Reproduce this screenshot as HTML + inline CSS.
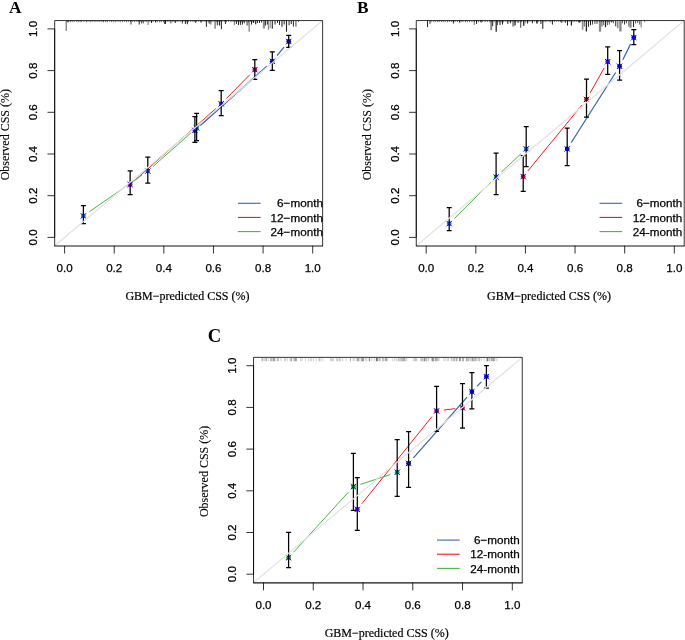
<!DOCTYPE html>
<html lang="en">
<head>
<meta charset="utf-8">
<title>Calibration plots</title>
<style>
html,body{margin:0;padding:0;background:#fff;}
body{width:685px;height:640px;overflow:hidden;}
svg{display:block;}
.t{font-family:"Liberation Sans", sans-serif;font-size:11.6px;fill:#000;stroke:#000;stroke-width:0.25px;}
.l{font-family:"Liberation Sans", sans-serif;font-size:11.7px;fill:#000;stroke:#000;stroke-width:0.25px;}
.a{font-family:"Liberation Serif", serif;font-size:12px;fill:#000;stroke:#000;stroke-width:0.2px;}
.ay{font-family:"Liberation Serif", serif;font-size:12px;fill:#000;stroke:#000;stroke-width:0.12px;}
.p{font-family:"Liberation Serif", serif;font-weight:bold;fill:#000;}
</style>
</head>
<body>
<svg width="685" height="640" viewBox="0 0 685 640">
<rect width="685" height="640" fill="#fff"/>
<g>
<path d="M68 20.56v1.19M70.33 20.56v1.63M72.18 20.56v1.45M74.19 20.56v1.56M76.48 20.56v1.17M78.14 20.56v1.69M80.14 20.56v1.63M81.78 20.56v1.41M84.01 20.56v1.26M86.43 20.56v1.73M88.09 20.56v1.12M90.18 20.56v1.76M92.13 20.56v1.25M94.11 20.56v1.12M95.94 20.56v1.41M97.98 20.56v1.26M99.81 20.56v1.25M101.83 20.56v1.3M103.49 20.56v1.69M105.58 20.56v1.55M107.37 20.56v1.79M109.72 20.56v1.18M111.63 20.56v1.61M113.86 20.56v1.76M115.84 20.56v1.68M118.03 20.56v1.31M120.15 20.56v1.72M122.49 20.56v1.45M124.61 20.56v1.12M126.45 20.56v1.66M128.43 20.56v1.22M130.52 20.56v1.59M132.71 20.56v1.36M134.71 20.56v1.46M136.99 20.56v1.46M138.95 20.56v1.44M140.62 20.56v1.13M142.83 20.56v1.79M144.96 20.56v1.38M146.74 20.56v1.45M149.19 20.56v1.64M151.27 20.56v1.7M153.1 20.56v1.46M155.52 20.56v1.5M157.54 20.56v1.29M159.63 20.56v1.77M161.27 20.56v1.65M163.58 20.56v1.72M165.83 20.56v1.67M167.9 20.56v1.49M169.88 20.56v1.14M172.24 20.56v1.5M174.04 20.56v1.45M176.08 20.56v1.35M178 20.56v1.48M180.15 20.56v1.53M182.17 20.56v1.12M184 20.56v1.22M186.12 20.56v1.7M188.41 20.56v1.66M190.72 20.56v1.28M193.05 20.56v1.57M194.76 20.56v1.11M196.41 20.56v1.63M198.26 20.56v1.18M200.41 20.56v1.34M202.11 20.56v1.21M204.18 20.56v1.22M206.04 20.56v1.6M208.06 20.56v1.33M210.08 20.56v1.12M212.04 20.56v1.39M213.83 20.56v1.18M216.21 20.56v1.46M218.02 20.56v1.52M220.33 20.56v1.11M221.99 20.56v1.2M224.22 20.56v1.21M226.44 20.56v1.57M228.52 20.56v1.25M230.96 20.56v1.66M233.03 20.56v1.26M235.2 20.56v1.38M237.31 20.56v1.32M239.47 20.56v1.14M241.35 20.56v1.78M243.71 20.56v1.31M246.05 20.56v1.32M248.46 20.56v1.62M250.45 20.56v1.28M252.09 20.56v1.72M253.76 20.56v1.67" stroke="#000" stroke-width="1" fill="none" opacity="0.6"/><path d="M139.2 20.56v4M151.5 20.56v2.4M155.8 20.56v2M165.5 20.56v3.4M175.3 20.56v2.4M185.4 20.56v3.4M187.4 20.56v3.7M206.4 20.56v6.3M217.3 20.56v4.7M221.4 20.56v8.6M225.4 20.56v3.4M236.4 20.56v3.4M238.5 20.56v4.4M240.4 20.56v4.4M242.4 20.56v4M244.3 20.56v2.7M251.5 20.56v4M253.5 20.56v2.4M257.5 20.56v2.4M259.5 20.56v2.4M261.6 20.56v1.9M265.4 20.56v5M267.3 20.56v4M277.5 20.56v2.4M279.5 20.56v4.4M291.3 20.56v3.4M293.4 20.56v6" stroke="#000" stroke-width="1" fill="none" opacity="0.85"/><path d="M270.3 20.56v7.3" stroke="#000" stroke-width="1" fill="none" opacity="0.45"/><path d="M66.2 20.56v10.4M141.5 20.56v2.9M143.3 20.56v2.9M164.5 20.56v3.4M195.4 20.56v2.4M201.1 20.56v2.4M298.6 20.56v1.4" stroke="#000" stroke-width="1" fill="none" opacity="0.65"/><path d="M272.3 20.56v8.3M286.5 20.56v11.2" stroke="#000" stroke-width="1.1" fill="none" opacity="0.85"/><path d="M68 20.56v1.7M219.5 20.56v5M255.7 20.56v3.7" stroke="#000" stroke-width="1.2" fill="none" opacity="0.85"/><path d="M148.1 20.56v4.4" stroke="#000" stroke-width="1.2" fill="none" opacity="0.45"/><path d="M182.4 20.56v3" stroke="#000" stroke-width="1.2" fill="none" opacity="0.65"/><path d="M234.4 20.56v4.7" stroke="#000" stroke-width="1.3" fill="none" opacity="0.45"/><path d="M284.2 20.56v4" stroke="#000" stroke-width="1.3" fill="none" opacity="0.65"/><path d="M249.2 20.56v11.2M268.5 20.56v9.3" stroke="#000" stroke-width="1.4" fill="none" opacity="0.45"/><path d="M209.2 20.56v3" stroke="#000" stroke-width="1.4" fill="none" opacity="0.65"/><path d="M131 20.56v4M170.7 20.56v3M210.8 20.56v4M215.1 20.56v8.3M295.9 20.56v6.3" stroke="#000" stroke-width="1.6" fill="none" opacity="0.45"/><path d="M263.9 20.56v7.9M275 20.56v4M282 20.56v6.3M289.2 20.56v4.7" stroke="#000" stroke-width="2" fill="none" opacity="0.45"/><path d="M247.3 20.56v5" stroke="#000" stroke-width="2.2" fill="none" opacity="0.45"/>
<path d="M200.35 125.54L266.85 66.16M276.96 55.68L284.04 47.12" stroke="#3568ac" stroke-width="1.25" fill="none"/>
<path d="M135.61 179.66L215.74 108.64M226.32 98.6L249.68 74.85" stroke="#f01a1a" stroke-width="1" fill="none"/>
<path d="M89.39 211.73L141.81 175.27M153.27 166.26L191.13 132.74" stroke="#48b448" stroke-width="1" fill="none"/>
<circle cx="194.9" cy="130.4" r="2.4" fill="#0000d0"/>
<circle cx="272.3" cy="61.3" r="2.4" fill="#0000d0"/>
<circle cx="288.7" cy="41.5" r="2.4" fill="#0000d0"/>
<path d="M194.9 116.7V142.3M192.4 116.7h5M192.4 142.3h5M272.3 51.8V70.4M269.8 51.8h5M269.8 70.4h5M288.7 35.3V47.3M286.2 35.3h5M286.2 47.3h5" stroke="#000" stroke-width="1.25" fill="none"/>
<path d="M192.2 127.7l5.4 5.4M192.2 133.1l5.4 -5.4M269.6 58.6l5.4 5.4M269.6 64l5.4 -5.4M286 38.8l5.4 5.4M286 44.2l5.4 -5.4" stroke="#0000ff" stroke-width="1" fill="none"/>
<circle cx="130.15" cy="184.5" r="2.4" fill="#ff0000"/>
<circle cx="221.2" cy="103.8" r="2.4" fill="#ff0000"/>
<circle cx="254.8" cy="69.65" r="2.4" fill="#ff0000"/>
<path d="M130.15 170.9V194.5M127.65 170.9h5M127.65 194.5h5M221.2 90.6V115.5M218.7 90.6h5M218.7 115.5h5M254.8 59.5V79.35M252.3 59.5h5M252.3 79.35h5" stroke="#000" stroke-width="1.25" fill="none"/>
<path d="M127.45 181.8l5.4 5.4M127.45 187.2l5.4 -5.4M218.5 101.1l5.4 5.4M218.5 106.5l5.4 -5.4M252.1 66.95l5.4 5.4M252.1 72.35l5.4 -5.4" stroke="#0000ff" stroke-width="1" fill="none"/>
<circle cx="83.4" cy="215.9" r="2.4" fill="#1fb01f"/>
<circle cx="147.8" cy="171.1" r="2.4" fill="#1fb01f"/>
<circle cx="196.6" cy="127.9" r="2.4" fill="#1fb01f"/>
<path d="M83.4 205.5V223.6M80.9 205.5h5M80.9 223.6h5M147.8 157.2V183.2M145.3 157.2h5M145.3 183.2h5M196.6 113.4V140.6M194.1 113.4h5M194.1 140.6h5" stroke="#000" stroke-width="1.25" fill="none"/>
<path d="M80.7 213.2l5.4 5.4M80.7 218.6l5.4 -5.4M145.1 168.4l5.4 5.4M145.1 173.8l5.4 -5.4M193.9 125.2l5.4 5.4M193.9 130.6l5.4 -5.4" stroke="#0000ff" stroke-width="1" fill="none"/>
<line x1="54.68" y1="245.74" x2="322.62" y2="20.56" stroke="#e2e2e2" stroke-width="1.2"/>
<path d="M54.68 246V20.56H322.62V246" fill="none" stroke="#000" stroke-width="0.8"/>
<path d="M54.28 246H323.02" fill="none" stroke="#000" stroke-width="1.15" opacity="0.92"/>
<path d="M54.68 237.4V28.9M64.6 245.74v7.8M54.68 237.4h-7.2M114.22 245.74v7.8M54.68 195.7h-7.2M163.84 245.74v7.8M54.68 154h-7.2M213.46 245.74v7.8M54.68 112.3h-7.2M263.08 245.74v7.8M54.68 70.6h-7.2M312.7 245.74v7.8M54.68 28.9h-7.2" stroke="#000" stroke-width="0.8" fill="none"/>
<text x="64.6" y="271.74" text-anchor="middle" class="t">0.0</text>
<text x="114.22" y="271.74" text-anchor="middle" class="t">0.2</text>
<text x="163.84" y="271.74" text-anchor="middle" class="t">0.4</text>
<text x="213.46" y="271.74" text-anchor="middle" class="t">0.6</text>
<text x="263.08" y="271.74" text-anchor="middle" class="t">0.8</text>
<text x="312.7" y="271.74" text-anchor="middle" class="t">1.0</text>
<text transform="translate(36.98 237.4) rotate(-90)" text-anchor="middle" class="t">0.0</text>
<text transform="translate(36.98 195.7) rotate(-90)" text-anchor="middle" class="t">0.2</text>
<text transform="translate(36.98 154) rotate(-90)" text-anchor="middle" class="t">0.4</text>
<text transform="translate(36.98 112.3) rotate(-90)" text-anchor="middle" class="t">0.6</text>
<text transform="translate(36.98 70.6) rotate(-90)" text-anchor="middle" class="t">0.8</text>
<text transform="translate(36.98 28.9) rotate(-90)" text-anchor="middle" class="t">1.0</text>
<text x="187.45" y="300.14" text-anchor="middle" class="a">GBM−predicted CSS (%)</text>
<text transform="translate(9.28 134.65) rotate(-90)" text-anchor="middle" class="ay">Observed CSS (%)</text>
<line x1="237.92" y1="203.29" x2="260.62" y2="203.29" stroke="#3568ac" stroke-width="1.1"/>
<text x="322.92" y="207.49" text-anchor="end" class="l">6−month</text>
<line x1="237.92" y1="217.44" x2="260.62" y2="217.44" stroke="#f01a1a" stroke-width="1.1"/>
<text x="322.92" y="221.64" text-anchor="end" class="l">12−month</text>
<line x1="237.92" y1="231.59" x2="260.62" y2="231.59" stroke="#48b448" stroke-width="1.1"/>
<text x="322.92" y="235.79" text-anchor="end" class="l">24−month</text>
<text x="9.1" y="12.7" class="p" font-size="17.3">A</text>
</g>
<g>
<path d="M431 20.56v1.77M433.42 20.56v1.14M435.13 20.56v1.68M437.37 20.56v1.57M439.26 20.56v1.52M441.4 20.56v1.51M443.17 20.56v1.4M445.13 20.56v1.61M447.59 20.56v1.76M449.68 20.56v1.41M451.54 20.56v1.13M453.2 20.56v1.43M455.1 20.56v1.37M457.47 20.56v1.47M459.57 20.56v1.27M461.23 20.56v1.33M462.98 20.56v1.46M465.44 20.56v1.57M467.23 20.56v1.73M469.52 20.56v1.61M471.91 20.56v1.63M474.19 20.56v1.35M476.64 20.56v1.77M478.41 20.56v1.63M480.64 20.56v1.42M482.71 20.56v1.44M485.11 20.56v1.45M487.43 20.56v1.35M489.8 20.56v1.73M491.81 20.56v1.5M494.21 20.56v1.61M496.25 20.56v1.26M498.15 20.56v1.59M499.93 20.56v1.74M501.79 20.56v1.74M503.68 20.56v1.77M505.9 20.56v1.45M507.97 20.56v1.56M510.09 20.56v1.32M511.9 20.56v1.46M514.31 20.56v1.54M516.01 20.56v1.67M518.24 20.56v1.74M520.04 20.56v1.62M521.73 20.56v1.56M523.59 20.56v1.26M525.95 20.56v1.17M528.02 20.56v1.7M529.86 20.56v1.25M532.22 20.56v1.4M534.45 20.56v1.12M536.39 20.56v1.22M538.58 20.56v1.16M541 20.56v1.12M543.24 20.56v1.11M545.09 20.56v1.67M546.86 20.56v1.23M549.06 20.56v1.37M550.74 20.56v1.79M552.5 20.56v1.13M554.43 20.56v1.53M556.67 20.56v1.18M558.59 20.56v1.12M560.6 20.56v1.64M562.85 20.56v1.73M565.11 20.56v1.7M567.32 20.56v1.43M569.15 20.56v1.56M571.05 20.56v1.17M573.06 20.56v1.71M574.8 20.56v1.51M576.76 20.56v1.46M578.52 20.56v1.77M580.37 20.56v1.52M582.36 20.56v1.11M584.45 20.56v1.2M586.14 20.56v1.12M587.91 20.56v1.17M590.07 20.56v1.46M592.52 20.56v1.75M594.98 20.56v1.26M596.98 20.56v1.28M599.11 20.56v1.54M601.4 20.56v1.6M603.25 20.56v1.4M605.32 20.56v1.1M606.99 20.56v1.39M608.72 20.56v1.61M610.56 20.56v1.17M612.35 20.56v1.26" stroke="#000" stroke-width="1" fill="none" opacity="0.6"/><path d="M427.5 20.56v6.5M453.4 20.56v3M476.5 20.56v3.4M481.1 20.56v2M492.7 20.56v5.6M502.5 20.56v4M507.8 20.56v3.4M510.4 20.56v2.7M527.5 20.56v3M532.4 20.56v2.7M540.9 20.56v3.4M552.4 20.56v4M567.5 20.56v5M588.5 20.56v6.3M590.5 20.56v4.7M624.6 20.56v4M633.5 20.56v6.6" stroke="#000" stroke-width="1" fill="none" opacity="0.85"/><path d="M525.3 20.56v2.9" stroke="#000" stroke-width="1" fill="none" opacity="0.45"/><path d="M497.5 20.56v4.7M518 20.56v2.4M561.6 20.56v2.4M565.4 20.56v2.4M584.3 20.56v6M592.5 20.56v4M603.7 20.56v4.7M607.4 20.56v4.7M609.3 20.56v4M611.5 20.56v1.9M613.4 20.56v2.7M622.5 20.56v2.7M626.5 20.56v2.7M635.6 20.56v3M637.7 20.56v2.4M639.7 20.56v4M644.6 20.56v1.2" stroke="#000" stroke-width="1" fill="none" opacity="0.65"/><path d="M515.1 20.56v4.7M571.4 20.56v5M605.5 20.56v6.6" stroke="#000" stroke-width="1.2" fill="none" opacity="0.85"/><path d="M474.3 20.56v4.4" stroke="#000" stroke-width="1.2" fill="none" opacity="0.45"/><path d="M520.7 20.56v7.3" stroke="#000" stroke-width="1.2" fill="none" opacity="0.65"/><path d="M496.2 20.56v11.2M523.7 20.56v5.3M586.4 20.56v10.9" stroke="#000" stroke-width="1.3" fill="none" opacity="0.85"/><path d="M628.7 20.56v6M641.2 20.56v7" stroke="#000" stroke-width="1.3" fill="none" opacity="0.45"/><path d="M459.6 20.56v2.2M615.6 20.56v5.6" stroke="#000" stroke-width="1.3" fill="none" opacity="0.65"/><path d="M542.7 20.56v8.3" stroke="#000" stroke-width="1.4" fill="none" opacity="0.65"/><path d="M579.5 20.56v1.9" stroke="#000" stroke-width="1.5" fill="none" opacity="0.85"/><path d="M429.9 20.56v3.4M594.8 20.56v3.4M597 20.56v3.4M602 20.56v6" stroke="#000" stroke-width="1.5" fill="none" opacity="0.45"/><path d="M537 20.56v3" stroke="#000" stroke-width="1.6" fill="none" opacity="0.85"/><path d="M582.6 20.56v9.3M617.7 20.56v7.6" stroke="#000" stroke-width="1.6" fill="none" opacity="0.45"/><path d="M491.2 20.56v9.6M500 20.56v4.4" stroke="#000" stroke-width="2" fill="none" opacity="0.45"/><path d="M513.3 20.56v6" stroke="#000" stroke-width="2.2" fill="none" opacity="0.45"/><path d="M600 20.56v11.2M630.5 20.56v7.3" stroke="#000" stroke-width="2.3" fill="none" opacity="0.45"/><path d="M620.4 20.56v10.9" stroke="#000" stroke-width="2.5" fill="none" opacity="0.45"/>
<path d="M571.11 142.74L615.69 72.46M622.84 59.76L630.56 44.14" stroke="#3568ac" stroke-width="1.25" fill="none"/>
<path d="M527.83 170.96L581.87 105.09M590.07 93.09L604.13 68.06" stroke="#f01a1a" stroke-width="1" fill="none"/>
<path d="M454.38 218.45L490.92 182.15M501.44 172.02L520.86 153.88" stroke="#48b448" stroke-width="1" fill="none"/>
<circle cx="567.2" cy="148.9" r="2.4" fill="#0000d0"/>
<circle cx="619.6" cy="66.3" r="2.4" fill="#0000d0"/>
<circle cx="633.8" cy="37.6" r="2.4" fill="#0000d0"/>
<path d="M567.2 128.1V165.6M564.7 128.1h5M564.7 165.6h5M619.6 50.6V80.1M617.1 50.6h5M617.1 80.1h5M633.8 29.7V44.6M631.3 29.7h5M631.3 44.6h5" stroke="#000" stroke-width="1.25" fill="none"/>
<path d="M564.5 146.2l5.4 5.4M564.5 151.6l5.4 -5.4M616.9 63.6l5.4 5.4M616.9 69l5.4 -5.4M631.1 34.9l5.4 5.4M631.1 40.3l5.4 -5.4" stroke="#0000ff" stroke-width="1" fill="none"/>
<circle cx="523.2" cy="176.6" r="2.4" fill="#ff0000"/>
<circle cx="586.5" cy="99.45" r="2.4" fill="#ff0000"/>
<circle cx="607.7" cy="61.7" r="2.4" fill="#ff0000"/>
<path d="M523.2 155.5V191.4M520.7 155.5h5M520.7 191.4h5M586.5 79.1V117.2M584 79.1h5M584 117.2h5M607.7 46.8V74.4M605.2 46.8h5M605.2 74.4h5" stroke="#000" stroke-width="1.25" fill="none"/>
<path d="M520.5 173.9l5.4 5.4M520.5 179.3l5.4 -5.4M583.8 96.75l5.4 5.4M583.8 102.15l5.4 -5.4M605 59l5.4 5.4M605 64.4l5.4 -5.4" stroke="#0000ff" stroke-width="1" fill="none"/>
<circle cx="449.2" cy="223.6" r="2.4" fill="#1fb01f"/>
<circle cx="496.1" cy="177" r="2.4" fill="#1fb01f"/>
<circle cx="526.2" cy="148.9" r="2.4" fill="#1fb01f"/>
<path d="M449.2 207.7V230.7M446.7 207.7h5M446.7 230.7h5M496.1 153V194.5M493.6 153h5M493.6 194.5h5M526.2 126.6V166.5M523.7 126.6h5M523.7 166.5h5" stroke="#000" stroke-width="1.25" fill="none"/>
<path d="M446.5 220.9l5.4 5.4M446.5 226.3l5.4 -5.4M493.4 174.3l5.4 5.4M493.4 179.7l5.4 -5.4M523.5 146.2l5.4 5.4M523.5 151.6l5.4 -5.4" stroke="#0000ff" stroke-width="1" fill="none"/>
<line x1="416.28" y1="245.74" x2="684.22" y2="20.56" stroke="#e2e2e2" stroke-width="1.2"/>
<path d="M416.28 246V20.56H684.22V246" fill="none" stroke="#000" stroke-width="0.8"/>
<path d="M415.88 246H684.62" fill="none" stroke="#000" stroke-width="1.15" opacity="0.92"/>
<path d="M416.28 237.4V28.9M426.2 245.74v7.8M416.28 237.4h-7.2M475.82 245.74v7.8M416.28 195.7h-7.2M525.44 245.74v7.8M416.28 154h-7.2M575.06 245.74v7.8M416.28 112.3h-7.2M624.68 245.74v7.8M416.28 70.6h-7.2M674.3 245.74v7.8M416.28 28.9h-7.2" stroke="#000" stroke-width="0.8" fill="none"/>
<text x="426.2" y="271.74" text-anchor="middle" class="t">0.0</text>
<text x="475.82" y="271.74" text-anchor="middle" class="t">0.2</text>
<text x="525.44" y="271.74" text-anchor="middle" class="t">0.4</text>
<text x="575.06" y="271.74" text-anchor="middle" class="t">0.6</text>
<text x="624.68" y="271.74" text-anchor="middle" class="t">0.8</text>
<text x="674.3" y="271.74" text-anchor="middle" class="t">1.0</text>
<text transform="translate(398.58 237.4) rotate(-90)" text-anchor="middle" class="t">0.0</text>
<text transform="translate(398.58 195.7) rotate(-90)" text-anchor="middle" class="t">0.2</text>
<text transform="translate(398.58 154) rotate(-90)" text-anchor="middle" class="t">0.4</text>
<text transform="translate(398.58 112.3) rotate(-90)" text-anchor="middle" class="t">0.6</text>
<text transform="translate(398.58 70.6) rotate(-90)" text-anchor="middle" class="t">0.8</text>
<text transform="translate(398.58 28.9) rotate(-90)" text-anchor="middle" class="t">1.0</text>
<text x="549.05" y="300.14" text-anchor="middle" class="a">GBM−predicted CSS (%)</text>
<text transform="translate(370.88 134.65) rotate(-90)" text-anchor="middle" class="ay">Observed CSS (%)</text>
<line x1="599.52" y1="203.29" x2="622.22" y2="203.29" stroke="#3568ac" stroke-width="1.1"/>
<text x="682.22" y="207.49" text-anchor="end" class="l">6−month</text>
<line x1="599.52" y1="217.44" x2="622.22" y2="217.44" stroke="#f01a1a" stroke-width="1.1"/>
<text x="682.22" y="221.64" text-anchor="end" class="l">12-month</text>
<line x1="599.52" y1="231.59" x2="622.22" y2="231.59" stroke="#48b448" stroke-width="1.1"/>
<text x="682.22" y="235.79" text-anchor="end" class="l">24-month</text>
<text x="357.1" y="12.8" class="p" font-size="17.3">B</text>
</g>
<g>
<path d="M266.14 357.96v3.3M272.11 357.96v3.3M268.71 357.96v3.3M273.28 357.96v3.3M273.7 357.96v3.3M262.78 357.96v3.3M261.76 357.96v3.3M277.83 357.96v3.3M266.56 357.96v3.3M266.07 357.96v3.3M280.92 357.96v3.3M270.67 357.96v3.3M277.81 357.96v3.3M270.79 357.96v3.3M273.96 357.96v3.3M264.44 357.96v3.3M273.88 357.96v3.3M278.43 357.96v3.3M271.7 357.96v3.3M275.95 357.96v3.3M274.59 357.96v3.3M262.75 357.96v3.3M285.55 357.96v3.3M284.55 357.96v3.3M290.01 357.96v3.3M287.31 357.96v3.3M295.66 357.96v3.3M291.73 357.96v3.3M294.19 357.96v3.3M295.79 357.96v3.3M294.14 357.96v3.3M296.21 357.96v3.3M290.95 357.96v3.3M295.01 357.96v3.3M291.45 357.96v3.3M296.36 357.96v3.3M330.4 357.96v3.3M300.7 357.96v3.3M302.17 357.96v3.3M305.25 357.96v3.3M333.69 357.96v3.3M313.57 357.96v3.3M320.81 357.96v3.3M308.44 357.96v3.3M316.28 357.96v3.3M311.66 357.96v3.3M310.33 357.96v3.3M319.23 357.96v3.3M319.2 357.96v3.3M331.36 357.96v3.3M322.92 357.96v3.3M332.3 357.96v3.3M358.12 357.96v3.3M361.76 357.96v3.3M353.12 357.96v3.3M339.4 357.96v3.3M358.24 357.96v3.3M361.05 357.96v3.3M359.43 357.96v3.3M350.37 357.96v3.3M354.27 357.96v3.3M340.7 357.96v3.3M357.45 357.96v3.3M350.49 357.96v3.3M342.69 357.96v3.3M336.71 357.96v3.3M358.06 357.96v3.3M361.72 357.96v3.3M337.39 357.96v3.3M356.62 357.96v3.3M346.08 357.96v3.3M339.07 357.96v3.3M369.05 357.96v3.3M380.45 357.96v3.3M382.95 357.96v3.3M363.06 357.96v3.3M376.75 357.96v3.3M363.08 357.96v3.3M379.24 357.96v3.3M369.94 357.96v3.3M383.14 357.96v3.3M385.54 357.96v3.3M374.13 357.96v3.3M385.96 357.96v3.3M369.43 357.96v3.3M363.85 357.96v3.3M376.39 357.96v3.3M362.75 357.96v3.3M366.74 357.96v3.3M371.79 357.96v3.3M376.65 357.96v3.3M365.75 357.96v3.3M363.02 357.96v3.3M382.83 357.96v3.3M369.53 357.96v3.3M385.01 357.96v3.3M379.38 357.96v3.3M376.27 357.96v3.3M376.76 357.96v3.3M377.12 357.96v3.3M377.86 357.96v3.3M377.57 357.96v3.3M402.22 357.96v3.3M403.98 357.96v3.3M413.28 357.96v3.3M400.7 357.96v3.3M398.5 357.96v3.3M406.89 357.96v3.3M392.89 357.96v3.3M394.73 357.96v3.3M414.36 357.96v3.3M401.11 357.96v3.3M401.9 357.96v3.3M386.33 357.96v3.3M398.04 357.96v3.3M402.82 357.96v3.3M386.58 357.96v3.3M403.86 357.96v3.3M404.33 357.96v3.3M387.74 357.96v3.3M404.19 357.96v3.3M399.52 357.96v3.3M405.7 357.96v3.3M396.22 357.96v3.3M436.21 357.96v3.3M437.14 357.96v3.3M415.67 357.96v3.3M416.82 357.96v3.3M435.28 357.96v3.3M443.9 357.96v3.3M422.53 357.96v3.3M428.69 357.96v3.3M432.78 357.96v3.3M424.6 357.96v3.3M425.92 357.96v3.3M424.38 357.96v3.3M426.07 357.96v3.3M432.87 357.96v3.3M424.01 357.96v3.3M426.31 357.96v3.3M438.17 357.96v3.3M415.81 357.96v3.3M432.08 357.96v3.3M437.06 357.96v3.3M424.3 357.96v3.3M421.68 357.96v3.3M439.11 357.96v3.3M422.16 357.96v3.3M420.62 357.96v3.3M428.06 357.96v3.3M435.19 357.96v3.3M431.61 357.96v3.3M432.93 357.96v3.3M433 357.96v3.3M436 357.96v3.3M433.63 357.96v3.3M489.92 357.96v3.3M453.89 357.96v3.3M462.68 357.96v3.3M479.14 357.96v3.3M491.46 357.96v3.3M468.68 357.96v3.3M456.81 357.96v3.3M451.35 357.96v3.3M472.81 357.96v3.3M455.02 357.96v3.3M487.36 357.96v3.3M489.02 357.96v3.3M454.64 357.96v3.3M459.63 357.96v3.3M487.38 357.96v3.3M478.7 357.96v3.3M487.33 357.96v3.3M463.13 357.96v3.3M451.81 357.96v3.3M460.33 357.96v3.3M486.68 357.96v3.3M459.24 357.96v3.3M463.18 357.96v3.3M466.89 357.96v3.3M467.04 357.96v3.3M466.5 357.96v3.3M493.33 357.96v3.3M453.19 357.96v3.3M445.24 357.96v3.3M494.52 357.96v3.3M491.2 357.96v3.3M496.81 357.96v3.3M467.8 357.96v3.3M494.88 357.96v3.3M493.69 357.96v3.3M456.66 357.96v3.3M484.14 357.96v3.3M488.93 357.96v3.3M479.81 357.96v3.3M472.25 357.96v3.3M460.17 357.96v3.3M462.91 357.96v3.3M456.94 357.96v3.3M448.57 357.96v3.3M475.91 357.96v3.3M460.07 357.96v3.3M487.54 357.96v3.3M447.37 357.96v3.3M492.44 357.96v3.3M481.42 357.96v3.3M493.5 357.96v3.3M492.07 357.96v3.3M477.1 357.96v3.3M474.19 357.96v3.3M469.12 357.96v3.3M475.71 357.96v3.3M470.55 357.96v3.3M471.7 357.96v3.3M474.97 357.96v3.3M473.72 357.96v3.3M472.72 357.96v3.3" stroke="#000" stroke-width="0.45" fill="none" opacity="0.4"/>
<path d="M413.43 457.93L467.07 397.17M476.96 386.43L481.34 381.87" stroke="#3568ac" stroke-width="1.25" fill="none"/>
<path d="M361.88 503.71L432.02 416.59M443.85 410.03L455.25 408.67" stroke="#f01a1a" stroke-width="1" fill="none"/>
<path d="M293.52 552.31L348.48 492.09M360.33 484.42L390.27 474.58" stroke="#48b448" stroke-width="1" fill="none"/>
<circle cx="408.6" cy="463.4" r="2.4" fill="#0000d0"/>
<circle cx="471.9" cy="391.7" r="2.4" fill="#0000d0"/>
<circle cx="486.4" cy="376.6" r="2.4" fill="#0000d0"/>
<path d="M408.6 431.7V487.3M406.1 431.7h5M406.1 487.3h5M471.9 372.7V408.75M469.4 372.7h5M469.4 408.75h5M486.4 365.6V388M483.9 365.6h5M483.9 388h5" stroke="#000" stroke-width="1.25" fill="none"/>
<path d="M405.9 460.7l5.4 5.4M405.9 466.1l5.4 -5.4M469.2 389l5.4 5.4M469.2 394.4l5.4 -5.4M483.7 373.9l5.4 5.4M483.7 379.3l5.4 -5.4" stroke="#0000ff" stroke-width="1" fill="none"/>
<circle cx="357.3" cy="509.4" r="2.4" fill="#ff0000"/>
<circle cx="436.6" cy="410.9" r="2.4" fill="#ff0000"/>
<circle cx="462.5" cy="407.8" r="2.4" fill="#ff0000"/>
<path d="M357.3 477.7V530.3M354.8 477.7h5M354.8 530.3h5M436.6 386.4V431.25M434.1 386.4h5M434.1 431.25h5M462.5 383.6V428.1M460 383.6h5M460 428.1h5" stroke="#000" stroke-width="1.25" fill="none"/>
<path d="M354.6 506.7l5.4 5.4M354.6 512.1l5.4 -5.4M433.9 408.2l5.4 5.4M433.9 413.6l5.4 -5.4M459.8 405.1l5.4 5.4M459.8 410.5l5.4 -5.4" stroke="#0000ff" stroke-width="1" fill="none"/>
<circle cx="288.6" cy="557.7" r="2.4" fill="#1fb01f"/>
<circle cx="353.4" cy="486.7" r="2.4" fill="#1fb01f"/>
<circle cx="397.2" cy="472.3" r="2.4" fill="#1fb01f"/>
<path d="M288.6 532.3V567.7M286.1 532.3h5M286.1 567.7h5M353.4 453.4V510.3M350.9 453.4h5M350.9 510.3h5M397.2 439.5V496.4M394.7 439.5h5M394.7 496.4h5" stroke="#000" stroke-width="1.25" fill="none"/>
<path d="M285.9 555l5.4 5.4M285.9 560.4l5.4 -5.4M350.7 484l5.4 5.4M350.7 489.4l5.4 -5.4M394.5 469.6l5.4 5.4M394.5 475l5.4 -5.4" stroke="#0000ff" stroke-width="1" fill="none"/>
<line x1="253.55" y1="582.54" x2="522.25" y2="357.36" stroke="#e2e2e2" stroke-width="1.2"/>
<path d="M253.55 582.8V357.36H522.25V582.8" fill="none" stroke="#000" stroke-width="0.8"/>
<path d="M253.15 582.8H522.65" fill="none" stroke="#000" stroke-width="1.15" opacity="0.92"/>
<path d="M253.55 574.2V365.7M263.5 582.54v7.8M253.55 574.2h-7.2M313.26 582.54v7.8M253.55 532.5h-7.2M363.02 582.54v7.8M253.55 490.8h-7.2M412.78 582.54v7.8M253.55 449.1h-7.2M462.54 582.54v7.8M253.55 407.4h-7.2M512.3 582.54v7.8M253.55 365.7h-7.2" stroke="#000" stroke-width="0.8" fill="none"/>
<text x="263.5" y="608.54" text-anchor="middle" class="t">0.0</text>
<text x="313.26" y="608.54" text-anchor="middle" class="t">0.2</text>
<text x="363.02" y="608.54" text-anchor="middle" class="t">0.4</text>
<text x="412.78" y="608.54" text-anchor="middle" class="t">0.6</text>
<text x="462.54" y="608.54" text-anchor="middle" class="t">0.8</text>
<text x="512.3" y="608.54" text-anchor="middle" class="t">1.0</text>
<text transform="translate(235.85 574.2) rotate(-90)" text-anchor="middle" class="t">0.0</text>
<text transform="translate(235.85 532.5) rotate(-90)" text-anchor="middle" class="t">0.2</text>
<text transform="translate(235.85 490.8) rotate(-90)" text-anchor="middle" class="t">0.4</text>
<text transform="translate(235.85 449.1) rotate(-90)" text-anchor="middle" class="t">0.6</text>
<text transform="translate(235.85 407.4) rotate(-90)" text-anchor="middle" class="t">0.8</text>
<text transform="translate(235.85 365.7) rotate(-90)" text-anchor="middle" class="t">1.0</text>
<text x="386.7" y="636.94" text-anchor="middle" class="a">GBM−predicted CSS (%)</text>
<text transform="translate(208.15 471.45) rotate(-90)" text-anchor="middle" class="ay">Observed CSS (%)</text>
<line x1="437" y1="540.09" x2="459.7" y2="540.09" stroke="#3568ac" stroke-width="1.1"/>
<text x="519.75" y="544.29" text-anchor="end" class="l">6−month</text>
<line x1="437" y1="554.24" x2="459.7" y2="554.24" stroke="#f01a1a" stroke-width="1.1"/>
<text x="519.75" y="558.44" text-anchor="end" class="l">12-month</text>
<line x1="437" y1="568.39" x2="459.7" y2="568.39" stroke="#48b448" stroke-width="1.1"/>
<text x="519.75" y="572.59" text-anchor="end" class="l">24-month</text>
<text x="207.7" y="341.9" class="p" font-size="18.6">C</text>
</g>
</svg>
</body>
</html>
